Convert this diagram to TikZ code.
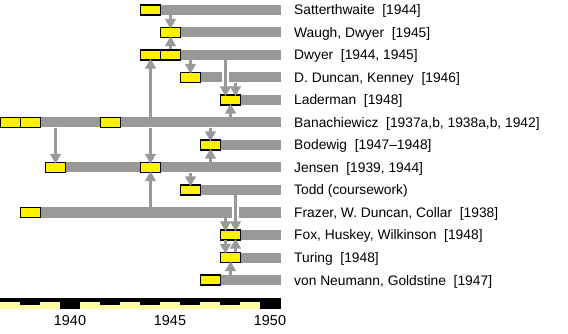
\documentclass[tikz,border=0pt]{standalone}
\usepackage{fontspec}
\setmainfont{Liberation Sans}
\usetikzlibrary{arrows.meta}

\definecolor{bargray}{RGB}{153,153,153}
\definecolor{paleyellow}{RGB}{255,255,160}

\tikzset{
  rowbar/.style={fill=bargray, inner sep=0pt, minimum height=10pt, anchor=west},
  pub/.style={draw=black, fill=yellow, line width=1.3pt, inner sep=0pt,
    minimum width=19.7pt, minimum height=10pt},
  link/.style={draw=bargray, line width=3pt, shorten >=-2pt,
    -{Triangle[width=10.5pt,length=10pt]}},
  gapline/.style={draw=white, line width=6.5pt},
  author/.style={anchor=base west, inner sep=0pt, font=\fontsize{13.8}{16}\selectfont},
  yearlabel/.style={anchor=base, inner sep=0pt, font=\fontsize{14.4}{17}\selectfont},
}

\begin{document}
\begin{tikzpicture}[x=1pt,y=-1pt]
    \useasboundingbox (0,0) rectangle (568,334);

    % bars and labels
    \foreach \n/\y/\s/\t [evaluate=\s as \w using 281-\s] in {
    sat/10/140/{Satterthwaite\ \ [1944]},
    wau/32.5/160/{Waugh, Dwyer\ \ [1945]},
    dwy/55/140/{Dwyer\ \ [1944, 1945]},
    dun/77.5/180/{D. Duncan, Kenney\ \ [1946]},
    lad/100/220/{Laderman\ \ [1948]},
    ban/122.5/0/{Banachiewicz\ \ [1937a,b, 1938a,b, 1942]},
    bod/145/200/{Bodewig\ \ [1947--1948]},
    jen/167.5/45/{Jensen\ \ [1939, 1944]},
    tod/190/180/{Todd (coursework)},
    fra/212.5/20/{Frazer, W. Duncan, Collar\ \ [1938]},
    fox/235/220/{Fox, Huskey, Wilkinson\ \ [1948]},
    tur/257.5/220/{Turing\ \ [1948]},
    neu/280/200/{von Neumann, Goldstine\ \ [1947]}
    }
    {
        \node[rowbar, minimum width=\w pt] (bar\n) at (\s,\y) {};
        \node[author] (lbl\n) at (294,\y+5) {\t};
    }

    % publications
    \foreach \n/\x/\y in {
    sat44/150.5/10, wau45/170.5/32.5, dwy44/150.5/55, dwy45/170.5/55,
    dun46/190.5/77.5, lad48/230.5/100, ban37/10.5/122.5, ban38/30.5/122.5,
    ban42/110.5/122.5, bod47/210.5/145, jen39/55.5/167.5, jen44/150.5/167.5,
    tod46/190.5/190, fra38/30.5/212.5, fox48/230.5/235, tur48/230.5/257.5,
    neu47/210.5/280
    }
    {
        \node[pub] (\n) at (\x,\y) {};
    }

    % split ends on the boxes with two incoming links
    \coordinate (ladL) at ([xshift=-5pt]lad48.north);
    \coordinate (ladR) at ([xshift=5pt]lad48.north);
    \coordinate (foxL) at ([xshift=-5pt]fox48.north);
    \coordinate (foxR) at ([xshift=5pt]fox48.north);
    \coordinate (foxRs) at ([xshift=5pt]fox48.south);
    \coordinate (turL) at ([xshift=-5pt]tur48.north);
    \coordinate (turR) at ([xshift=5pt]tur48.north);

    % gaps where links cross a bar
    \draw[gapline] (ladL |- bardun.north) -- (ladL |- bardun.south);
    \draw[gapline] (foxR |- barfra.north) -- (foxR |- barfra.south);

    % influences
    \draw[link] (wau45 |- barsat.south) -- (wau45.north);
    \draw[link] (dwy45.north) -- (wau45.south);
    \draw[link] (dun46 |- bardwy.south) -- (dun46.north);
    \draw[link] (ladL |- bardwy.south) -- (ladL);
    \draw[link] (ladR |- bardun.south) -- (ladR);
    \draw[link] (lad48 |- barban.north) -- (lad48.south);
    \draw[link] (dwy44 |- barban.north) -- (dwy44.south);
    \draw[link] (jen44 |- barban.south) -- (jen44.north);
    \draw[link] (jen39 |- barban.south) -- (jen39.north);
    \draw[link] (bod47 |- barban.south) -- (bod47.north);
    \draw[link] (bod47 |- barjen.north) -- (bod47.south);
    \draw[link] (tod46 |- barjen.south) -- (tod46.north);
    \draw[link] (jen44 |- barfra.north) -- (jen44.south);
    \draw[link] (foxR |- bartod.south) -- (foxR);
    \draw[link] (foxL |- barfra.south) -- (foxL);
    \draw[link] (turL |- barfox.south) -- (turL);
    \draw[link] (turR) -- (foxRs);
    \draw[link] (tur48 |- barneu.north) -- (tur48.south);

    % time scale
    \fill (0,298) rectangle (281,301.5);
    \fill[paleyellow] (0,301.5) rectangle (281,308.5);
    \foreach \i in {1,5,7,9,11}
    {
        \fill (20*\i,301.5) rectangle (20*\i+20,304.7);
    }
    \fill (60,301.5) rectangle (80,308.5);
    \fill (260,301.5) rectangle (281,308.5);

    \foreach \yr/\x in {1940/70, 1945/170, 1950/270}
    {
        \node[yearlabel] (t\yr) at (\x,325) {\yr};
    }
\end{tikzpicture}
\end{document}
